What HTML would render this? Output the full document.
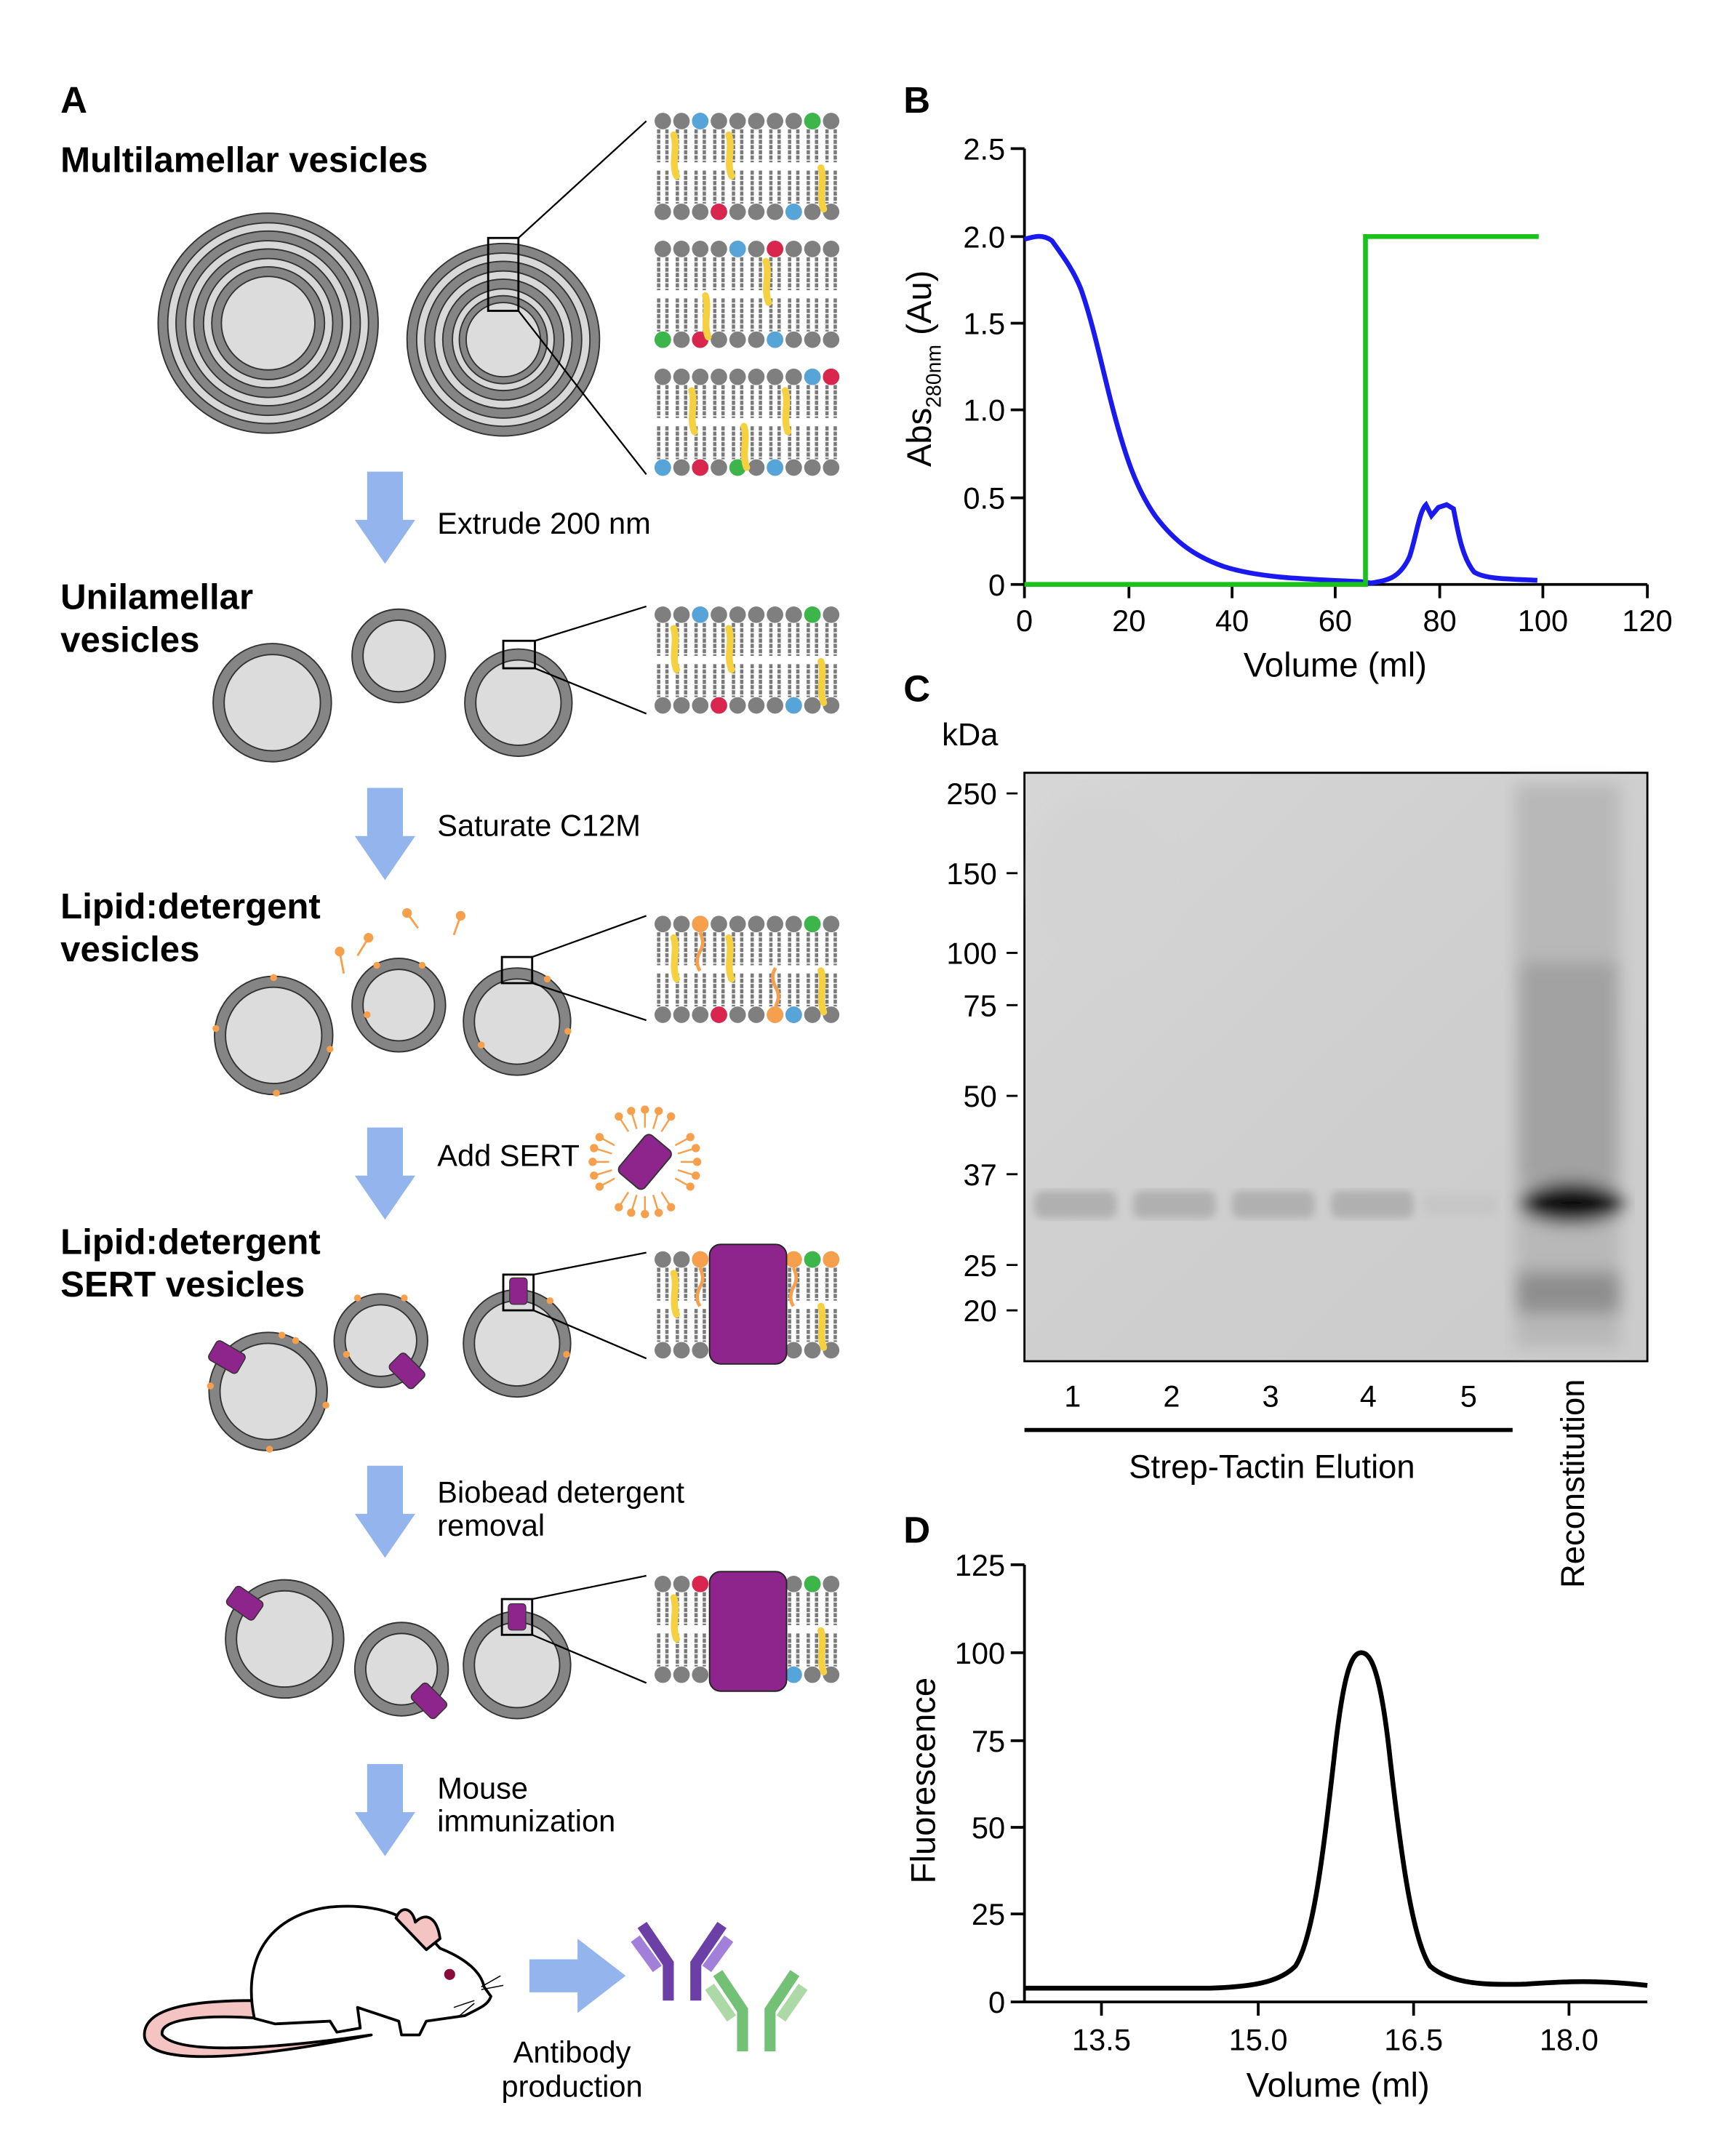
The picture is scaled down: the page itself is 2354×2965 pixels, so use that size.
<!DOCTYPE html>
<html><head><meta charset="utf-8"><style>html,body{margin:0;padding:0;background:#fff}svg{display:block}text{font-family:"Liberation Sans",Arial,sans-serif}</style></head>
<body>
<svg width="2354" height="2965" viewBox="0 0 1245 1568" xmlns="http://www.w3.org/2000/svg">
<defs>
<g id="bl">
 <g stroke="#7a7a7a" stroke-width="2.4" stroke-dasharray="3 0.8">
  <path d="M3,12V36M9,12V36M16.6,12V36M22.6,12V36M30.2,12V36M36.2,12V36M43.8,12V36M49.8,12V36M57.4,12V36M63.4,12V36M71,12V36M77,12V36M84.6,12V36M90.6,12V36M98.2,12V36M104.2,12V36M111.8,12V36M117.8,12V36M125.4,12V36M131.4,12V36"/>
  <path d="M3,42V66M9,42V66M16.6,42V66M22.6,42V66M30.2,42V66M36.2,42V66M43.8,42V66M49.8,42V66M57.4,42V66M63.4,42V66M71,42V66M77,42V66M84.6,42V66M90.6,42V66M98.2,42V66M104.2,42V66M111.8,42V66M117.8,42V66M125.4,42V66M131.4,42V66"/>
 </g>
 <g fill="#7f7f7f">
  <circle cx="6" cy="6" r="6"/><circle cx="19.6" cy="6" r="6"/><circle cx="33.2" cy="6" r="6"/><circle cx="46.8" cy="6" r="6"/><circle cx="60.4" cy="6" r="6"/><circle cx="74" cy="6" r="6"/><circle cx="87.6" cy="6" r="6"/><circle cx="101.2" cy="6" r="6"/><circle cx="114.8" cy="6" r="6"/><circle cx="128.4" cy="6" r="6"/>
  <circle cx="6" cy="72" r="6"/><circle cx="19.6" cy="72" r="6"/><circle cx="33.2" cy="72" r="6"/><circle cx="46.8" cy="72" r="6"/><circle cx="60.4" cy="72" r="6"/><circle cx="74" cy="72" r="6"/><circle cx="87.6" cy="72" r="6"/><circle cx="101.2" cy="72" r="6"/><circle cx="114.8" cy="72" r="6"/><circle cx="128.4" cy="72" r="6"/>
 </g>
</g>
<g id="chol"><path d="M0,0 C3,10 -2,20 2,30" stroke="#f5d142" stroke-width="5" fill="none" stroke-linecap="round"/></g>
<g id="arrow"><path d="M-13,0 H13 V35 H22 L0,67 L-22,35 H-13 Z" fill="#93b4ec"/></g>
<g id="prot"><rect x="-8" y="-12" width="16" height="24" rx="3" fill="#8e258d" stroke="#333" stroke-width="0.8"/></g>
<filter id="blur2"><feGaussianBlur stdDeviation="3"/></filter>
<filter id="blur6"><feGaussianBlur stdDeviation="6"/></filter>
<linearGradient id="gelg" x1="0" y1="0" x2="1" y2="1"><stop offset="0" stop-color="#d6d6d6"/><stop offset="0.5" stop-color="#cfcfcf"/><stop offset="1" stop-color="#cbcbcb"/></linearGradient>
</defs>

<!-- Panel A -->
<text x="44" y="82" font-size="27" font-weight="bold">A</text>
<text x="44" y="125" font-size="26" font-weight="bold">Multilamellar vesicles</text>
<g stroke="#333" stroke-width="1">
 <circle cx="195" cy="235" r="80" fill="#858585"/><circle cx="195" cy="235" r="73" fill="#d8d8d8"/><circle cx="195" cy="235" r="67" fill="#858585"/><circle cx="195" cy="235" r="60" fill="#d8d8d8"/><circle cx="195" cy="235" r="54" fill="#858585"/><circle cx="195" cy="235" r="47" fill="#d8d8d8"/><circle cx="195" cy="235" r="41" fill="#858585"/><circle cx="195" cy="235" r="34" fill="#dcdcdc"/>
 <circle cx="366" cy="247" r="70" fill="#858585"/><circle cx="366" cy="247" r="63" fill="#d8d8d8"/><circle cx="366" cy="247" r="57" fill="#858585"/><circle cx="366" cy="247" r="50" fill="#d8d8d8"/><circle cx="366" cy="247" r="44" fill="#858585"/><circle cx="366" cy="247" r="37" fill="#d8d8d8"/><circle cx="366" cy="247" r="32" fill="#858585"/><circle cx="366" cy="247" r="27" fill="#dcdcdc"/>
</g>
<rect x="355" y="173" width="22" height="53" fill="none" stroke="#000" stroke-width="1.5"/>
<path d="M377,173 L470,88 M377,226 L470,345" stroke="#000" stroke-width="1.2"/>
<use href="#bl" transform="translate(476,82)"/>
<circle cx="509.2" cy="88" r="6" fill="#57a5d8"/><circle cx="590.8" cy="88" r="6" fill="#3cb54a"/><circle cx="522.8" cy="154" r="6" fill="#d9264f"/><circle cx="577.2" cy="154" r="6" fill="#57a5d8"/>
<use href="#chol" transform="translate(490,98)"/><use href="#chol" transform="translate(530,98)"/><use href="#chol" transform="translate(597,122)"/>
<use href="#bl" transform="translate(476,175)"/>
<circle cx="536.4" cy="181" r="6" fill="#57a5d8"/><circle cx="563.6" cy="181" r="6" fill="#d9264f"/><circle cx="482" cy="247" r="6" fill="#3cb54a"/><circle cx="509.2" cy="247" r="6" fill="#d9264f"/><circle cx="563.6" cy="247" r="6" fill="#57a5d8"/>
<use href="#chol" transform="translate(557,190)"/><use href="#chol" transform="translate(513,215)"/>
<use href="#bl" transform="translate(476,268)"/>
<circle cx="590.8" cy="274" r="6" fill="#57a5d8"/><circle cx="604.4" cy="274" r="6" fill="#d9264f"/><circle cx="482" cy="340" r="6" fill="#57a5d8"/><circle cx="509.2" cy="340" r="6" fill="#d9264f"/><circle cx="536.4" cy="340" r="6" fill="#3cb54a"/><circle cx="563.6" cy="340" r="6" fill="#57a5d8"/>
<use href="#chol" transform="translate(503,284)"/><use href="#chol" transform="translate(571,284)"/><use href="#chol" transform="translate(541,310)"/>

<use href="#arrow" transform="translate(280,343)"/>
<text x="318" y="388" font-size="22">Extrude 200 nm</text>

<text x="44" y="443" font-size="26" font-weight="bold">Unilamellar</text>
<text x="44" y="474" font-size="26" font-weight="bold">vesicles</text>
<g fill="#858585" stroke="#333" stroke-width="1">
 <circle cx="198" cy="511" r="43"/><circle cx="290" cy="477" r="34"/><circle cx="377" cy="511" r="39"/>
</g>
<g fill="#dcdcdc" stroke="#333" stroke-width="1">
 <circle cx="198" cy="511" r="35"/><circle cx="290" cy="477" r="26"/><circle cx="377" cy="511" r="31"/>
</g>
<rect x="366" y="466" width="23" height="20" fill="none" stroke="#000" stroke-width="1.5"/>
<path d="M389,466 L470,441 M389,486 L470,519" stroke="#000" stroke-width="1.2"/>
<use href="#bl" transform="translate(476,441)"/>
<circle cx="509.2" cy="447" r="6" fill="#57a5d8"/><circle cx="590.8" cy="447" r="6" fill="#3cb54a"/><circle cx="522.8" cy="513" r="6" fill="#d9264f"/><circle cx="577.2" cy="513" r="6" fill="#57a5d8"/>
<use href="#chol" transform="translate(490,457)"/><use href="#chol" transform="translate(530,457)"/><use href="#chol" transform="translate(597,481)"/>

<use href="#arrow" transform="translate(280,573)"/>
<text x="318" y="608" font-size="22">Saturate C12M</text>

<text x="44" y="668" font-size="26" font-weight="bold">Lipid:detergent</text>
<text x="44" y="699" font-size="26" font-weight="bold">vesicles</text>
<g fill="#858585" stroke="#333" stroke-width="1">
 <circle cx="199" cy="753" r="43"/><circle cx="290" cy="731" r="34"/><circle cx="376" cy="743" r="39"/>
</g>
<g fill="#dcdcdc" stroke="#333" stroke-width="1">
 <circle cx="199" cy="753" r="35"/><circle cx="290" cy="731" r="26"/><circle cx="376" cy="743" r="31"/>
</g>
<g fill="#f6a04d">
 <circle cx="199" cy="711" r="2.5"/><circle cx="157" cy="748" r="2.5"/><circle cx="240" cy="763" r="2.5"/><circle cx="201" cy="795" r="2.5"/><circle cx="274" cy="702" r="2.5"/><circle cx="307" cy="702" r="2.5"/><circle cx="267" cy="738" r="2.5"/><circle cx="413" cy="750" r="2.5"/><circle cx="350" cy="760" r="2.5"/><circle cx="398" cy="712" r="2.5"/>
 <circle cx="247" cy="692" r="3.5"/><circle cx="268" cy="682" r="3.5"/><circle cx="296" cy="664" r="3.5"/><circle cx="335" cy="666" r="3.5"/>
</g>
<g stroke="#f6a04d" stroke-width="1.5" fill="none"><path d="M247,692 L250,708 M268,682 L260,695 M296,664 L304,675 M335,666 L330,680"/></g>
<rect x="365" y="696" width="22" height="19" fill="none" stroke="#000" stroke-width="1.5"/>
<path d="M387,696 L470,666 M387,715 L470,742" stroke="#000" stroke-width="1.2"/>
<use href="#bl" transform="translate(476,666)"/>
<circle cx="509.2" cy="672" r="6" fill="#f6a04d"/><circle cx="590.8" cy="672" r="6" fill="#3cb54a"/><circle cx="522.8" cy="738" r="6" fill="#d9264f"/><circle cx="563.6" cy="738" r="6" fill="#f6a04d"/><circle cx="577.2" cy="738" r="6" fill="#57a5d8"/>
<use href="#chol" transform="translate(490,682)"/><use href="#chol" transform="translate(530,682)"/><use href="#chol" transform="translate(597,706)"/>
<path d="M509,678 q4,8 0,14 q-4,8 0,14" stroke="#f6a04d" stroke-width="2.5" fill="none"/>
<path d="M564,732 q4,-8 0,-14 q-4,-8 0,-14" stroke="#f6a04d" stroke-width="2.5" fill="none"/>

<use href="#arrow" transform="translate(280,820)"/>
<text x="318" y="848" font-size="22">Add SERT</text>
<g transform="translate(469,845)">
 <g stroke="#f6a04d" stroke-width="1.3">
  <path d="M0,-25V-38M12,-22L19,-33M22,-12L33,-18M26,0H38M22,12L33,18M12,22L19,33M0,25V38M-12,22L-19,33M-22,12L-33,18M-26,0H-38M-22,-12L-33,-18M-12,-22L-19,-33M6,-24L10,-37M24,-6L37,-10M6,24L10,37M-24,6L-37,10M-6,-24L-10,-37M-6,24L-10,37M24,6L37,10M-24,-6L-37,-10"/>
 </g>
 <g fill="#f6a04d">
  <circle cx="0" cy="-38" r="3"/><circle cx="19" cy="-33" r="3"/><circle cx="33" cy="-18" r="3"/><circle cx="38" cy="0" r="3"/><circle cx="33" cy="18" r="3"/><circle cx="19" cy="33" r="3"/><circle cx="0" cy="38" r="3"/><circle cx="-19" cy="33" r="3"/><circle cx="-33" cy="18" r="3"/><circle cx="-38" cy="0" r="3"/><circle cx="-33" cy="-18" r="3"/><circle cx="-19" cy="-33" r="3"/>
  <circle cx="10" cy="-37" r="3"/><circle cx="37" cy="-10" r="3"/><circle cx="10" cy="37" r="3"/><circle cx="-37" cy="10" r="3"/><circle cx="-10" cy="-37" r="3"/><circle cx="-10" cy="37" r="3"/><circle cx="37" cy="10" r="3"/><circle cx="-37" cy="-10" r="3"/>
 </g>
 <rect x="-12" y="-18" width="24" height="36" rx="4" fill="#8e258d" stroke="#333" transform="rotate(40)"/>
</g>

<text x="44" y="912" font-size="26" font-weight="bold">Lipid:detergent</text>
<text x="44" y="943" font-size="26" font-weight="bold">SERT vesicles</text>
<g fill="#858585" stroke="#333" stroke-width="1">
 <circle cx="195" cy="1012" r="43"/><circle cx="277" cy="975" r="34"/><circle cx="376" cy="977" r="39"/>
</g>
<g fill="#dcdcdc" stroke="#333" stroke-width="1">
 <circle cx="195" cy="1012" r="35"/><circle cx="277" cy="975" r="26"/><circle cx="376" cy="977" r="31"/>
</g>
<g fill="#f6a04d"><circle cx="205" cy="971" r="2.5"/><circle cx="215" cy="975" r="2.5"/><circle cx="153" cy="1008" r="2.5"/><circle cx="237" cy="1022" r="2.5"/><circle cx="196" cy="1054" r="2.5"/><circle cx="260" cy="944" r="2.5"/><circle cx="294" cy="944" r="2.5"/><circle cx="252" cy="985" r="2.5"/><circle cx="412" cy="985" r="2.5"/><circle cx="400" cy="946" r="2.5"/></g>
<use href="#prot" transform="translate(165,987) rotate(-60)"/>
<use href="#prot" transform="translate(296,997) rotate(-45)"/>
<use href="#prot" transform="translate(377,939) scale(0.8)"/>
<rect x="366" y="927" width="22" height="26" fill="none" stroke="#000" stroke-width="1.5"/>
<path d="M388,927 L470,911 M388,953 L470,988" stroke="#000" stroke-width="1.2"/>
<use href="#bl" transform="translate(476,910)"/>
<circle cx="509.2" cy="916" r="6" fill="#f6a04d"/><circle cx="577.2" cy="916" r="6" fill="#f6a04d"/><circle cx="590.8" cy="916" r="6" fill="#3cb54a"/><circle cx="604.4" cy="916" r="6" fill="#f6a04d"/>
<use href="#chol" transform="translate(490,926)"/><use href="#chol" transform="translate(597,950)"/>
<path d="M509,922 q4,8 0,14 q-4,8 0,14" stroke="#f6a04d" stroke-width="2.5" fill="none"/>
<path d="M577,922 q4,8 0,14 q-4,8 0,14" stroke="#f6a04d" stroke-width="2.5" fill="none"/>
<rect x="516" y="905" width="56" height="87" rx="8" fill="#8e258d" stroke="#222" stroke-width="1"/>

<use href="#arrow" transform="translate(280,1066)"/>
<text x="318" y="1093" font-size="22">Biobead detergent</text>
<text x="318" y="1117" font-size="22">removal</text>
<g fill="#858585" stroke="#333" stroke-width="1">
 <circle cx="207" cy="1192" r="43"/><circle cx="292" cy="1214" r="34"/><circle cx="376" cy="1211" r="39"/>
</g>
<g fill="#dcdcdc" stroke="#333" stroke-width="1">
 <circle cx="207" cy="1192" r="35"/><circle cx="292" cy="1214" r="26"/><circle cx="376" cy="1211" r="31"/>
</g>
<use href="#prot" transform="translate(178,1166) rotate(-55)"/>
<use href="#prot" transform="translate(312,1237) rotate(-45)"/>
<use href="#prot" transform="translate(376,1176) scale(0.8)"/>
<rect x="365" y="1163" width="22" height="26" fill="none" stroke="#000" stroke-width="1.5"/>
<path d="M387,1163 L470,1146 M387,1189 L470,1224" stroke="#000" stroke-width="1.2"/>
<use href="#bl" transform="translate(476,1146)"/>
<circle cx="509.2" cy="1152" r="6" fill="#d9264f"/><circle cx="590.8" cy="1152" r="6" fill="#3cb54a"/><circle cx="577.2" cy="1218" r="6" fill="#57a5d8"/>
<use href="#chol" transform="translate(490,1162)"/><use href="#chol" transform="translate(597,1186)"/>
<rect x="516" y="1143" width="56" height="87" rx="8" fill="#8e258d" stroke="#222" stroke-width="1"/>

<use href="#arrow" transform="translate(280,1283)"/>
<text x="318" y="1308" font-size="22">Mouse</text>
<text x="318" y="1332" font-size="22">immunization</text>

<!-- mouse -->
<g stroke="#000" stroke-width="2" stroke-linejoin="round">
 <path d="M185,1455 C140,1455 105,1460 105,1480 C105,1500 160,1502 270,1480 C200,1490 130,1495 118,1480 C115,1468 150,1465 190,1468 Z" fill="#f4c4c2"/>
 <path d="M185,1468 C175,1420 200,1392 240,1387 C285,1383 305,1400 320,1417 C340,1425 350,1435 352,1445 L357,1452 C355,1458 350,1460 338,1466 L310,1470 L305,1480 L292,1480 L290,1470 L260,1460 L262,1475 L245,1478 L240,1470 L200,1472 Z" fill="#fff"/>
 <path d="M288,1395 C292,1385 300,1388 302,1398 C310,1390 318,1395 320,1410 L310,1418 Z" fill="#f4c4c2"/>
</g>
<circle cx="327" cy="1436" r="4" fill="#8b0a3c"/>
<g stroke="#000" stroke-width="0.8" fill="none"><path d="M350,1445 l14,-8 M350,1447 l16,-3 M345,1455 l-15,5 M345,1457 l-12,10"/></g>

<path d="M385,1425 H420 V1410 L455,1437 L420,1464 V1449 H385 Z" fill="#93b4ec"/>
<g stroke-linecap="butt">
 <path d="M467,1400 L486,1428 V1455 M525,1400 L506,1428 V1455" stroke="#6b3fa5" stroke-width="8" fill="none"/>
 <path d="M462,1410 L478,1432 M530,1410 L514,1432" stroke="#a27fd8" stroke-width="8"/>
 <path d="M522,1435 L540,1462 V1492 M578,1435 L560,1462 V1492" stroke="#72c177" stroke-width="8" fill="none"/>
 <path d="M516,1445 L532,1468 M584,1445 L568,1468" stroke="#acd9a6" stroke-width="8"/>
</g>
<text x="416" y="1500" font-size="22" text-anchor="middle">Antibody</text>
<text x="416" y="1525" font-size="22" text-anchor="middle">production</text>

<!-- Panel B -->
<text x="657" y="82" font-size="27" font-weight="bold">B</text>
<g stroke="#000" stroke-width="2" fill="none">
 <path d="M745,108 V425 H1198"/>
 <path d="M735,108H745M735,172H745M735,235H745M735,298H745M735,362H745M735,425H745"/>
 <path d="M745,425V435M821,425V435M896,425V435M971,425V435M1047,425V435M1122,425V435M1198,425V435"/>
</g>
<g font-size="22" text-anchor="end">
 <text x="731" y="116">2.5</text><text x="731" y="180">2.0</text><text x="731" y="243">1.5</text><text x="731" y="306">1.0</text><text x="731" y="370">0.5</text><text x="731" y="433">0</text>
</g>
<g font-size="22" text-anchor="middle">
 <text x="745" y="459">0</text><text x="821" y="459">20</text><text x="896" y="459">40</text><text x="971" y="459">60</text><text x="1047" y="459">80</text><text x="1122" y="459">100</text><text x="1198" y="459">120</text>
</g>
<text x="971" y="492" font-size="25" text-anchor="middle">Volume (ml)</text>
<text transform="translate(677,268) rotate(-90)" font-size="25" text-anchor="middle">Abs<tspan font-size="15" dy="7">280nm</tspan><tspan dy="-7"> (Au)</tspan></text>
<path d="M745,174 C752,172 758,170 765,175 C772,185 780,195 786,210 C795,235 802,270 810,300 C818,330 826,355 840,375 C855,395 870,405 890,412 C915,420 945,421 990,423 L997,424 C1010,422 1018,420 1025,405 C1030,390 1032,372 1037,367 L1041,375 L1046,369 L1052,367 L1057,370 C1060,385 1063,405 1072,416 C1080,421 1095,421 1118,422" stroke="#1a1aef" stroke-width="3.5" fill="none"/>
<path d="M745,425 H993 V172 H1119" stroke="#1bc21b" stroke-width="3.5" fill="none"/>

<!-- Panel C -->
<text x="657" y="510" font-size="27" font-weight="bold">C</text>
<text x="685" y="542" font-size="23">kDa</text>
<rect x="745" y="562" width="453" height="428" fill="url(#gelg)" stroke="#000" stroke-width="1.5"/>
<ellipse cx="800" cy="640" rx="50" ry="60" fill="#d3d3d3" opacity="0.7" filter="url(#blur6)"/>
<g filter="url(#blur2)" fill="#b0b0b0">
 <rect x="752" y="866" width="60" height="20" rx="6"/><rect x="824" y="866" width="60" height="20" rx="6"/><rect x="896" y="866" width="60" height="20" rx="6"/><rect x="968" y="866" width="60" height="20" rx="6"/><rect x="1035" y="868" width="55" height="16" rx="6" fill="#c6c6c6"/>
</g>
<g filter="url(#blur6)">
 <rect x="1102" y="570" width="76" height="410" fill="#b8b8b8"/>
 <rect x="1105" y="700" width="72" height="160" fill="#a2a2a2"/>
 <ellipse cx="1143" cy="875" rx="38" ry="15" fill="#111"/>
 <rect x="1103" y="925" width="75" height="30" fill="#8e8e8e"/>
</g>
<g stroke="#000" stroke-width="1.5"><path d="M732,577H740M732,635H740M732,693H740M732,731H740M732,797H740M732,854H740M732,920H740M732,953H740"/></g>
<g font-size="22" text-anchor="end">
 <text x="725" y="585">250</text><text x="725" y="643">150</text><text x="725" y="701">100</text><text x="725" y="739">75</text><text x="725" y="805">50</text><text x="725" y="862">37</text><text x="725" y="928">25</text><text x="725" y="961">20</text>
</g>
<g font-size="22" text-anchor="middle">
 <text x="780" y="1023">1</text><text x="852" y="1023">2</text><text x="924" y="1023">3</text><text x="995" y="1023">4</text><text x="1068" y="1023">5</text>
</g>
<path d="M745,1040 H1100" stroke="#000" stroke-width="3"/>
<text x="925" y="1075" font-size="24" text-anchor="middle">Strep-Tactin Elution</text>
<text transform="translate(1152,1155) rotate(-90)" font-size="24">Reconstitution</text>

<!-- Panel D -->
<text x="657" y="1122" font-size="27" font-weight="bold">D</text>
<g stroke="#000" stroke-width="2" fill="none">
 <path d="M745,1138 V1456 H1198"/>
 <path d="M735,1138H745M735,1202H745M735,1266H745M735,1329H745M735,1392H745M735,1456H745"/>
 <path d="M801,1456V1466M915,1456V1466M1028,1456V1466M1141,1456V1466"/>
</g>
<g font-size="22" text-anchor="end">
 <text x="731" y="1146">125</text><text x="731" y="1210">100</text><text x="731" y="1274">75</text><text x="731" y="1337">50</text><text x="731" y="1400">25</text><text x="731" y="1464">0</text>
</g>
<g font-size="22" text-anchor="middle">
 <text x="801" y="1491">13.5</text><text x="915" y="1491">15.0</text><text x="1028" y="1491">16.5</text><text x="1141" y="1491">18.0</text>
</g>
<text x="973" y="1525" font-size="25" text-anchor="middle">Volume (ml)</text>
<text transform="translate(680,1295) rotate(-90)" font-size="25" text-anchor="middle">Fluorescence</text>
<path d="M745,1446 L880,1446 C910,1445 930,1442 942,1430 C955,1410 962,1350 970,1280 C977,1215 983,1202 990,1202 C997,1202 1004,1215 1011,1280 C1019,1350 1027,1410 1040,1430 C1055,1443 1080,1444 1110,1443 C1140,1441 1160,1440 1198,1444" stroke="#000" stroke-width="3.5" fill="none"/>
</svg>
</body></html>
